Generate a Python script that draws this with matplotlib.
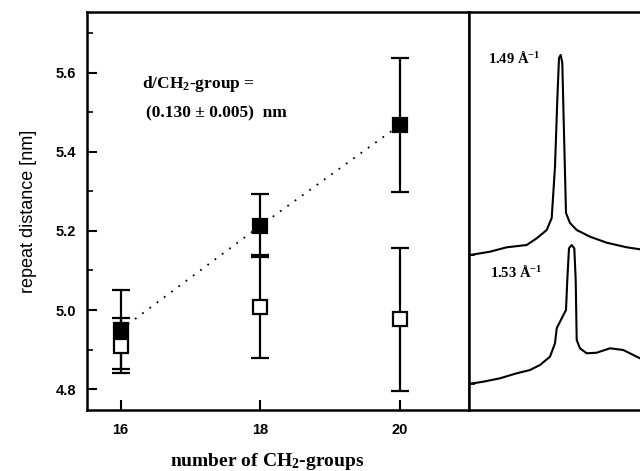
import matplotlib
matplotlib.use("Agg")
import matplotlib.pyplot as plt
from matplotlib.ticker import MultipleLocator

plt.rcParams["mathtext.default"] = "regular"

# ---- data: left panel ----
n_ch2 = [16, 18, 20]
filled_val = [4.95, 5.213, 5.468]
filled_err = [0.10, 0.08, 0.17]
open_val = [4.91, 5.008, 4.976]
open_err = [0.07, 0.13, 0.18]
x_ticks = [16, 18, 20]
y_ticks = [4.8, 5.0, 5.2, 5.4, 5.6]

# ---- data: right panel (arbitrary units) ----
peak1_x = [1, 21, 37.7, 57.7, 67.7, 77.7, 82.7, 86, 88.3, 90, 91.7, 93.3, 95, 97,
           101, 107.7, 121, 137.7, 157.7, 171]
peak1_y = [155, 158.3, 162.7, 165, 171.7, 180, 192, 243.3, 310, 352, 355, 347, 277,
           197, 187, 180, 173.3, 167.3, 162.7, 160.7]
peak2_x = [-0.7, 14.3, 31, 47.7, 61, 71, 81, 86, 87.7, 92.7, 97, 98.3, 100, 102.7,
           105.3, 106.7, 107.7, 111, 117.7, 127.7, 141, 154.3, 164.3, 171]
peak2_y = [26, 28.3, 31.7, 36.7, 40, 45, 53.3, 66.7, 81.7, 91.7, 100, 130, 161.7, 165,
           161.7, 130, 70, 61.7, 56.7, 57.3, 61.7, 60, 55, 51.7]
peak_labels = ["1.49 Å$^{-1}$", "1.53 Å$^{-1}$"]
baselines = [155, 26]

W, H = 640, 471
fig = plt.figure(figsize=(6.4, 4.71), dpi=100)

L, R, T, B = 87, 469, 12, 410
ax = fig.add_axes([L / W, (H - B) / H, (R - L) / W, (B - T) / H])

ax.errorbar(n_ch2, filled_val, yerr=filled_err, fmt="none", ecolor="black",
            elinewidth=1.6, capsize=6.5, capthick=1.6, zorder=2)
ax.errorbar(n_ch2, open_val, yerr=open_err, fmt="none", ecolor="black",
            elinewidth=1.6, capsize=6.5, capthick=1.6, zorder=2)
ax.plot(n_ch2, filled_val, linestyle=(0, (1, 4)), color="black", lw=1.3, zorder=1)
ax.plot(n_ch2, open_val, "s", mfc="white", mec="black", mew=1.6, ms=9.5, zorder=3)
ax.plot(n_ch2, filled_val, "s", mfc="black", mec="black", mew=1.6, ms=9.5, zorder=4)

ax.set_xlim(15.52, 20.99)
ax.set_ylim(4.747, 5.754)
ax.set_xticks(x_ticks)
ax.set_yticks(y_ticks)
ax.yaxis.set_minor_locator(MultipleLocator(0.1))
ax.set_xticklabels([str(v) for v in x_ticks], fontfamily="Liberation Sans",
                   fontweight="bold", fontsize=10.5)
ax.set_yticklabels([f"{v:.1f}" for v in y_ticks], fontfamily="Liberation Sans",
                   fontweight="bold", fontsize=10.5)
ax.tick_params(which="major", direction="in", length=7, width=1.5, pad=8)
ax.tick_params(which="minor", direction="in", length=4, width=1.2)
ax.tick_params(axis="x", pad=9)
for s in ax.spines.values():
    s.set_linewidth(1.8)

ax.set_ylabel("repeat distance [nm]", fontfamily="Liberation Sans", fontsize=13,
              labelpad=13)
fig.text(267 / W, 1 - 462 / H, "number of CH$_2$-groups",
         ha="center", va="center", fontfamily="Liberation Serif",
         fontweight="bold", fontsize=14)

ax.text(0.145, 0.82, "d/CH$_2$-group =", transform=ax.transAxes,
        fontfamily="Liberation Serif", fontweight="bold", fontsize=12.5,
        va="center", ha="left")
ax.text(0.155, 0.745, "(0.130 ± 0.005)  nm", transform=ax.transAxes,
        fontfamily="Liberation Serif", fontweight="bold", fontsize=12.5,
        va="center", ha="left")

# ---- right panel ----
ax2 = fig.add_axes([R / W, (H - B) / H, (W - R) / W + 0.01, (B - T) / H])
ax2.plot(peak1_x, peak1_y, color="black", lw=1.5)
ax2.plot(peak2_x, peak2_y, color="black", lw=1.5)
ax2.set_xlim(0, 171 * (W - R + 6.4) / (W - R))
ax2.set_ylim(0, B - T)
ax2.set_xticks([])
ax2.set_yticks(baselines)
ax2.set_yticklabels([])
ax2.tick_params(direction="in", length=4, width=1.2)
ax2.spines["right"].set_visible(False)
for s in ["left", "top", "bottom"]:
    ax2.spines[s].set_linewidth(1.8)
ax2.text(19, B - 58, peak_labels[0], fontfamily="Liberation Serif",
         fontweight="bold", fontsize=10.5, va="center", ha="left")
ax2.text(21, B - 272, peak_labels[1], fontfamily="Liberation Serif",
         fontweight="bold", fontsize=10.5, va="center", ha="left")

fig.savefig("out.png", dpi=100)
